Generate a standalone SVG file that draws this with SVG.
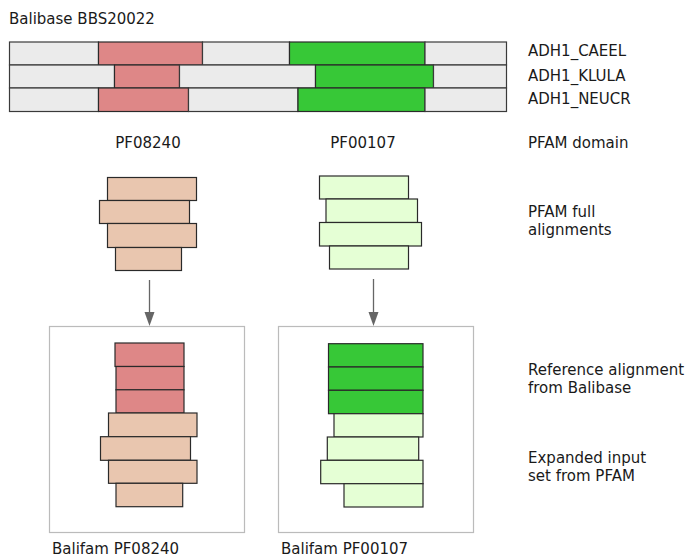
<svg xmlns="http://www.w3.org/2000/svg" width="690" height="560" viewBox="0 0 690 560">
<defs>
<style>
text{font-family:"DejaVu Sans","Verdana",sans-serif;font-size:15px;fill:#1a1a1a}
.g{fill:#ebebeb;stroke:#3a3a3a;stroke-width:1.2}
.r{fill:#de8787;stroke:#2a2a2a;stroke-width:1.2}
.gr{fill:#37c837;stroke:#2a2a2a;stroke-width:1.2}
.t{fill:#e9c6af;stroke:#2a2a2a;stroke-width:1.2}
.l{fill:#e5ffd5;stroke:#2a2a2a;stroke-width:1.2}
.box{fill:#fff;stroke:#bbbbbb;stroke-width:1.2}
.arr{stroke:#666;stroke-width:1.3;fill:none}
.head{fill:#666}
</style>
</defs>
<rect width="690" height="560" fill="#fff"/>
<text x="9" y="24">Balibase BBS20022</text>

<g id="balibase">
<rect class="g" x="9.5" y="42" width="89" height="23"/>
<rect class="r" x="98.5" y="42" width="104" height="23"/>
<rect class="g" x="202.5" y="42" width="87" height="23"/>
<rect class="gr" x="289.5" y="42" width="135.5" height="23"/>
<rect class="g" x="425" y="42" width="81.5" height="23"/>

<rect class="g" x="9.5" y="65" width="105" height="23"/>
<rect class="r" x="114.5" y="65" width="65" height="23"/>
<rect class="g" x="179.5" y="65" width="136" height="23"/>
<rect class="gr" x="315.5" y="65" width="118" height="23"/>
<rect class="g" x="433.5" y="65" width="73" height="23"/>

<rect class="g" x="9.5" y="88" width="89" height="23.5"/>
<rect class="r" x="98.5" y="88" width="90" height="23.5"/>
<rect class="g" x="188.5" y="88" width="109.5" height="23.5"/>
<rect class="gr" x="298" y="88" width="127" height="23.5"/>
<rect class="g" x="425" y="88" width="81.5" height="23.5"/>
<text x="528" y="56">ADH1_CAEEL</text>
<text x="528" y="81">ADH1_KLULA</text>
<text x="528" y="104">ADH1_NEUCR</text>
</g>

<text x="148" y="148" text-anchor="middle">PF08240</text>
<text x="363" y="148" text-anchor="middle">PF00107</text>
<text x="528" y="148">PFAM domain</text>

<g id="pfam-full-PF08240">
<rect class="t" x="107.5" y="177.5" width="89" height="23"/>
<rect class="t" x="99.5" y="200.5" width="90" height="23"/>
<rect class="t" x="107.5" y="223.5" width="89" height="24"/>
<rect class="t" x="115.5" y="247.5" width="66" height="23"/>
</g>
<g id="pfam-full-PF00107">
<rect class="l" x="319.5" y="176" width="89" height="23"/>
<rect class="l" x="326" y="199" width="91.5" height="23.5"/>
<rect class="l" x="319.5" y="222.5" width="102" height="23.5"/>
<rect class="l" x="329.5" y="246" width="79" height="23"/>
</g>
<text x="528" y="217">PFAM full</text>
<text x="528" y="235">alignments</text>

<g id="connectors">
<line class="arr" x1="149.5" y1="280" x2="149.5" y2="313"/>
<path class="head" d="M144.5,312 L154.5,312 L149.5,326 Z"/>
<line class="arr" x1="373.5" y1="279" x2="373.5" y2="313"/>
<path class="head" d="M368.5,312 L378.5,312 L373.5,326 Z"/>
</g>

<g id="balifam-PF08240">
<rect class="box" x="49.5" y="326.5" width="195" height="206"/>
<rect class="r" x="115" y="343" width="69" height="23.5"/>
<rect class="r" x="116" y="366.5" width="68" height="23.3"/>
<rect class="r" x="116" y="389.8" width="68" height="23.2"/>
<rect class="t" x="108.5" y="413" width="88.5" height="23.7"/>
<rect class="t" x="100.5" y="436.7" width="90" height="23.6"/>
<rect class="t" x="108.5" y="460.3" width="88.5" height="23"/>
<rect class="t" x="116" y="483.3" width="66.7" height="23.4"/>
</g>
<g id="balifam-PF00107">
<rect class="box" x="278.5" y="326.5" width="195" height="206"/>
<rect class="gr" x="328.5" y="343.7" width="94.5" height="23.3"/>
<rect class="gr" x="328.5" y="367" width="94.5" height="23.3"/>
<rect class="gr" x="328.5" y="390.3" width="94.5" height="23.4"/>
<rect class="l" x="334" y="413.7" width="89" height="23.3"/>
<rect class="l" x="327.3" y="437" width="91.4" height="23.3"/>
<rect class="l" x="320.7" y="460.3" width="102.3" height="23.4"/>
<rect class="l" x="344" y="483.7" width="79" height="23.3"/>
</g>
<text x="528" y="375">Reference alignment</text>
<text x="528" y="393">from Balibase</text>
<text x="528" y="463">Expanded input</text>
<text x="528" y="481">set from PFAM</text>

<text x="52" y="554">Balifam PF08240</text>
<text x="281" y="554">Balifam PF00107</text>
</svg>
